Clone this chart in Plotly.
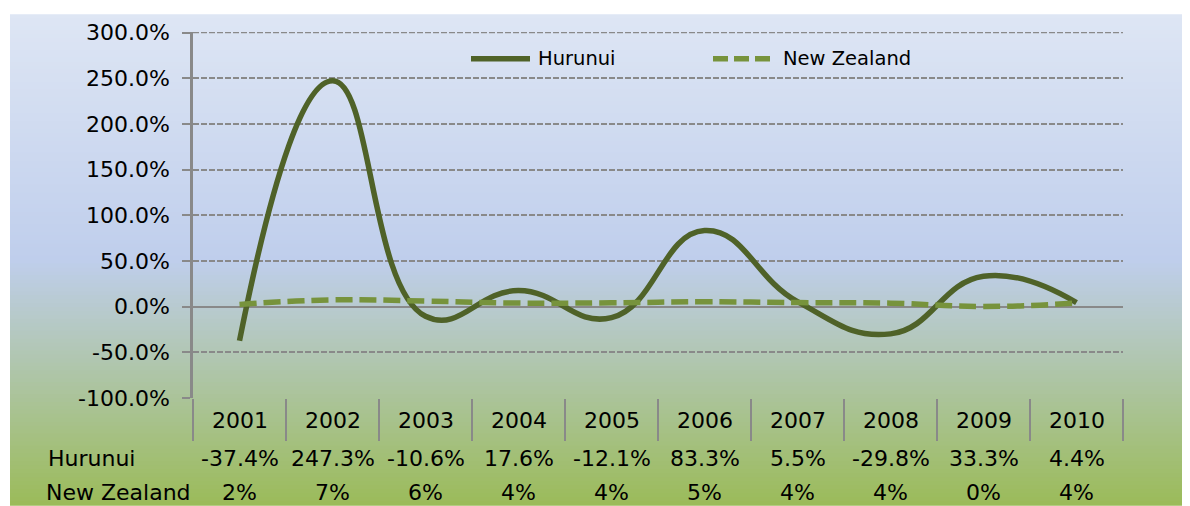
import plotly.graph_objects as go

years = ["2001", "2002", "2003", "2004", "2005", "2006", "2007", "2008", "2009", "2010"]
hurunui = [-37.4, 247.3, -10.6, 17.6, -12.1, 83.3, 5.5, -29.8, 33.3, 4.4]
nz = [2.4, 7.4, 6.1, 3.9, 4.2, 5.3, 4.4, 3.8, 0.2, 3.9]
series_names = ["Hurunui", "New Zealand"]
y_ticks = [-100, -50, 0, 50, 100, 150, 200, 250, 300]

OFF = 8  # page body margin offset
W, H = 1190, 506
L, R, T, B = 193 - OFF, 1123 - OFF, 28 - OFF, 398 - OFF
FONT = "DejaVu Sans"
FS = 22
FS_LEG = 19.5
GRAY = "#898989"
C_H = "#4F6228"
C_NZ = "#77933C"


def px_x(px):
    return (px - OFF - L) / (R - L)


def px_y(py):
    return (B - (py - OFF)) / (B - T)


fig = go.Figure()
fig.add_trace(go.Scatter(x=years, y=hurunui, name=series_names[0], mode="lines",
                         line=dict(color=C_H, width=5.5, shape="spline", smoothing=1.3),
                         showlegend=False))
fig.add_trace(go.Scatter(x=years, y=nz, name=series_names[1], mode="lines",
                         line=dict(color=C_NZ, width=5.5, shape="spline", smoothing=1.3, dash="17px,7px"),
                         showlegend=False))

# background gradient bands
stops = [(0.0, (222, 230, 244)), (0.5, (191, 206, 236)), (1.0, (155, 187, 89))]


def col(t):
    for (t0, c0), (t1, c1) in zip(stops[:-1], stops[1:]):
        if t <= t1:
            f = (t - t0) / (t1 - t0)
            return "rgb(%d,%d,%d)" % tuple(round(a + (b - a) * f) for a, b in zip(c0, c1))
    return "rgb(%d,%d,%d)" % stops[-1][1]


shapes = []
top, bot = 10, 506
n = 124
step = (bot - top) / n
for i in range(n):
    y0 = top + i * step
    y1 = min(bot + 10, y0 + step + 1)
    t = (i + 0.5) / n
    shapes.append(dict(type="rect", xref="paper", yref="paper", layer="below",
                       x0=px_x(10), x1=px_x(1200), y0=px_y(y0), y1=px_y(y1),
                       fillcolor=col(t), line=dict(width=0)))

# top gridline (plotly omits the one at the range edge)
shapes.append(dict(type="line", xref="paper", yref="y", layer="below", x0=0, x1=1,
                   y0=y_ticks[-1], y1=y_ticks[-1],
                   line=dict(color=GRAY, width=1.5, dash="6px,2px")))

# legend
shapes.append(dict(type="line", xref="paper", yref="paper", x0=px_x(471), x1=px_x(530),
                   y0=px_y(55), y1=px_y(55), line=dict(color=C_H, width=5.5)))
shapes.append(dict(type="line", xref="paper", yref="paper", x0=px_x(713), x1=px_x(771),
                   y0=px_y(55), y1=px_y(55), line=dict(color=C_NZ, width=5.5, dash="15px,6px")))

annotations = [
    dict(text=series_names[0], xref="paper", yref="paper", x=px_x(536), y=px_y(55),
         xanchor="left", yanchor="middle", showarrow=False, font=dict(family=FONT, size=FS_LEG, color="#000")),
    dict(text=series_names[1], xref="paper", yref="paper", x=px_x(781), y=px_y(55),
         xanchor="left", yanchor="middle", showarrow=False, font=dict(family=FONT, size=FS_LEG, color="#000")),
]

# data table
row_y = [421, 459, 494]
row_labels = ["", series_names[0], series_names[1]]
row_label_x = [0, 46, 44]
rows = [years,
        ["%.1f%%" % v for v in hurunui],
        ["%.0f%%" % v for v in nz]]
for r, vals in enumerate(rows):
    for i, txt in enumerate(vals):
        annotations.append(dict(text=txt, xref="x", yref="paper", x=i, y=px_y(row_y[r]),
                                xanchor="center", yanchor="middle", showarrow=False,
                                font=dict(family=FONT, size=FS, color="#000")))
    if row_labels[r]:
        annotations.append(dict(text=row_labels[r], xref="paper", yref="paper",
                                x=px_x(row_label_x[r]), y=px_y(row_y[r]),
                                xanchor="left", yanchor="middle", showarrow=False,
                                font=dict(family=FONT, size=FS, color="#000")))

fig.update_layout(
    width=W, height=H,
    margin=dict(l=L, r=W - R, t=T, b=H - B, pad=0),
    paper_bgcolor="white",
    plot_bgcolor="rgba(0,0,0,0)",
    shapes=shapes,
    annotations=annotations,
    showlegend=False,
    font=dict(family=FONT, size=FS, color="#000"),
)
fig.update_xaxes(type="category", range=[-0.5, 9.5], showgrid=False, zeroline=False,
                 showline=False, showticklabels=False, ticks="outside", tickson="boundaries",
                 ticklen=42, tickwidth=2, tickcolor=GRAY)
fig.update_yaxes(range=[-100, 300.6], tickvals=y_ticks, ticktext=["%.1f%%" % v for v in y_ticks],
                 showgrid=True, gridcolor=GRAY, gridwidth=1.5, griddash="6px,2px",
                 zeroline=True, zerolinecolor=GRAY, zerolinewidth=2,
                 showline=True, linecolor=GRAY, linewidth=2.5,
                 ticks="outside", ticklen=8, tickwidth=2, tickcolor=GRAY,
                 ticklabelstandoff=8, tickfont=dict(family=FONT, size=FS, color="#000"))

fig.write_html("out.html")
